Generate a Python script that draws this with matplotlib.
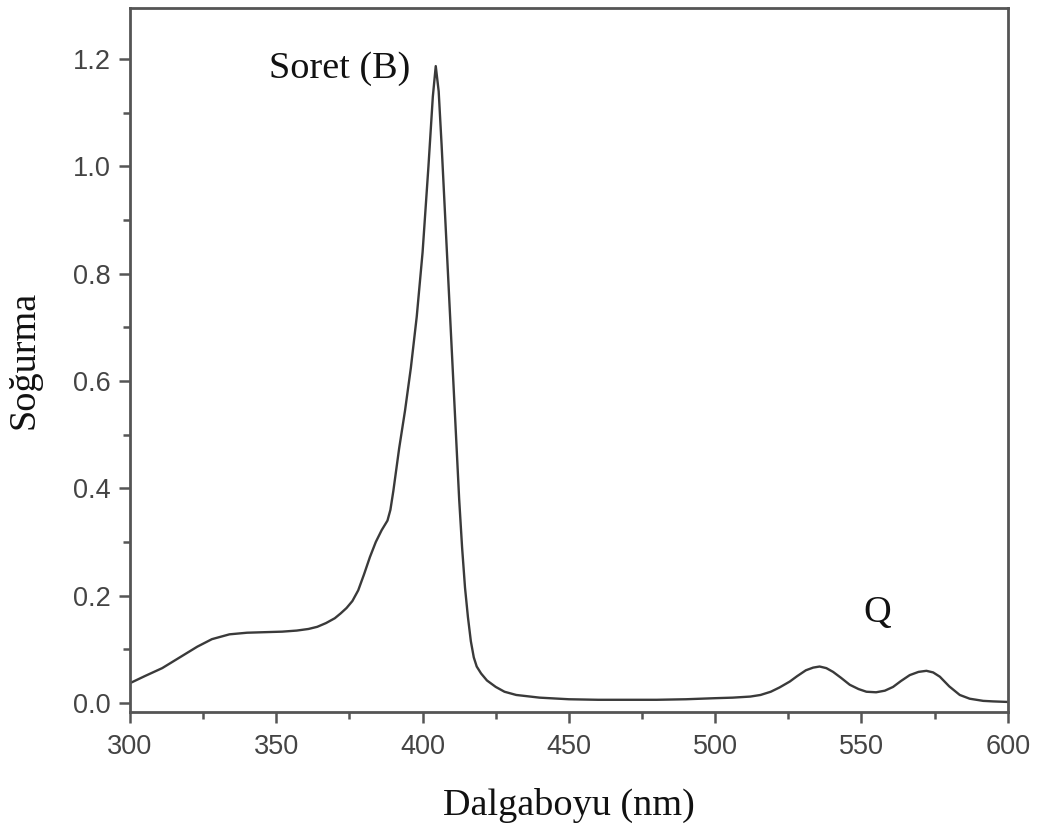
import numpy as np
import matplotlib
matplotlib.use("Agg")
import matplotlib.pyplot as plt
from matplotlib.ticker import MultipleLocator, FormatStrFormatter

# absorption spectrum read point by point
wavelength = [300, 305, 311, 317, 323, 328, 334, 340, 346, 352, 357, 361, 364,
              367, 370, 372, 374, 376, 378, 380, 382, 384, 386, 388, 389,
              390, 391, 392, 394, 396, 398, 400, 402, 403.5, 404.5,
              405.5, 406.5, 407.5, 408.5, 409.5, 410.5, 411.5, 412.5, 413.5,
              414.5, 415.5, 416.5, 417.5, 418.5, 420, 422, 425, 428, 432, 440,
              450, 460, 470, 480, 490, 500, 506, 512, 515.5, 519, 522, 525.5,
              528, 531, 533.5, 535.7, 538, 540.3, 543, 546, 549, 551.7, 555,
              558, 560.8, 563.5, 566.5, 569.5, 572.2, 574.5, 576.8, 580, 583.6,
              587, 591.6, 595, 600]
absorbance = [0.037, 0.050, 0.065, 0.085, 0.105, 0.119, 0.128, 0.131, 0.132,
              0.133, 0.135, 0.138, 0.142, 0.149, 0.158, 0.167, 0.177, 0.190,
              0.210, 0.240, 0.272, 0.300, 0.322, 0.340, 0.360, 0.395, 0.435,
              0.475, 0.545, 0.625, 0.720, 0.840, 1.000, 1.130, 1.187,
              1.140, 1.040, 0.930, 0.820, 0.710, 0.600, 0.490, 0.380, 0.290,
              0.215, 0.160, 0.115, 0.085, 0.068, 0.055, 0.042, 0.030, 0.021,
              0.015, 0.010, 0.007, 0.006, 0.006, 0.006, 0.007, 0.009, 0.010,
              0.012, 0.015, 0.021, 0.029, 0.040, 0.050, 0.061, 0.066, 0.068,
              0.065, 0.058, 0.047, 0.034, 0.026, 0.021, 0.020, 0.023, 0.030,
              0.041, 0.052, 0.058, 0.060, 0.057, 0.049, 0.031, 0.015, 0.008,
              0.004, 0.003, 0.002]

fig = plt.figure(figsize=(10.4, 8.32), dpi=100)
ax = fig.add_axes([0.125, 0.1442, 0.844, 0.846])

ax.plot(wavelength, absorbance, color="#3a3a3a", linewidth=1.7,
        solid_joinstyle="round")

ax.set_xlim(300, 600)
ax.set_ylim(-0.0168, 1.295)
ax.xaxis.set_major_locator(MultipleLocator(50))
ax.xaxis.set_minor_locator(MultipleLocator(25))
ax.yaxis.set_major_locator(MultipleLocator(0.2))
ax.yaxis.set_minor_locator(MultipleLocator(0.1))
ax.yaxis.set_major_formatter(FormatStrFormatter("%.1f"))

for side in ax.spines.values():
    side.set_color("#555555")
    side.set_linewidth(2.0)

ax.tick_params(axis="both", which="major", direction="out", length=8,
               width=1.8, color="#555555", labelsize=19.5, labelcolor="#444444")
ax.tick_params(axis="x", which="major", pad=8)
ax.tick_params(axis="y", which="major", pad=6)
ax.tick_params(axis="both", which="minor", direction="out", length=5,
               width=1.8, color="#555555")
for lbl in ax.get_xticklabels() + ax.get_yticklabels():
    lbl.set_family("Liberation Sans")

ax.set_xlabel("Dalgaboyu (nm)", family="Liberation Serif", fontsize=27.5,
              color="#111111", labelpad=20)
ax.set_ylabel("Soğurma", family="Liberation Serif", fontsize=27.5,
              color="#111111", labelpad=22)

ax.text(371.5, 1.183, "Soret (B)", family="Liberation Serif", fontsize=27.5,
        ha="center", va="center", color="#111111")
ax.text(555.5, 0.168, "Q", family="Liberation Serif", fontsize=27.5,
        ha="center", va="center", color="#111111")

fig.savefig("out.png", dpi=100)
